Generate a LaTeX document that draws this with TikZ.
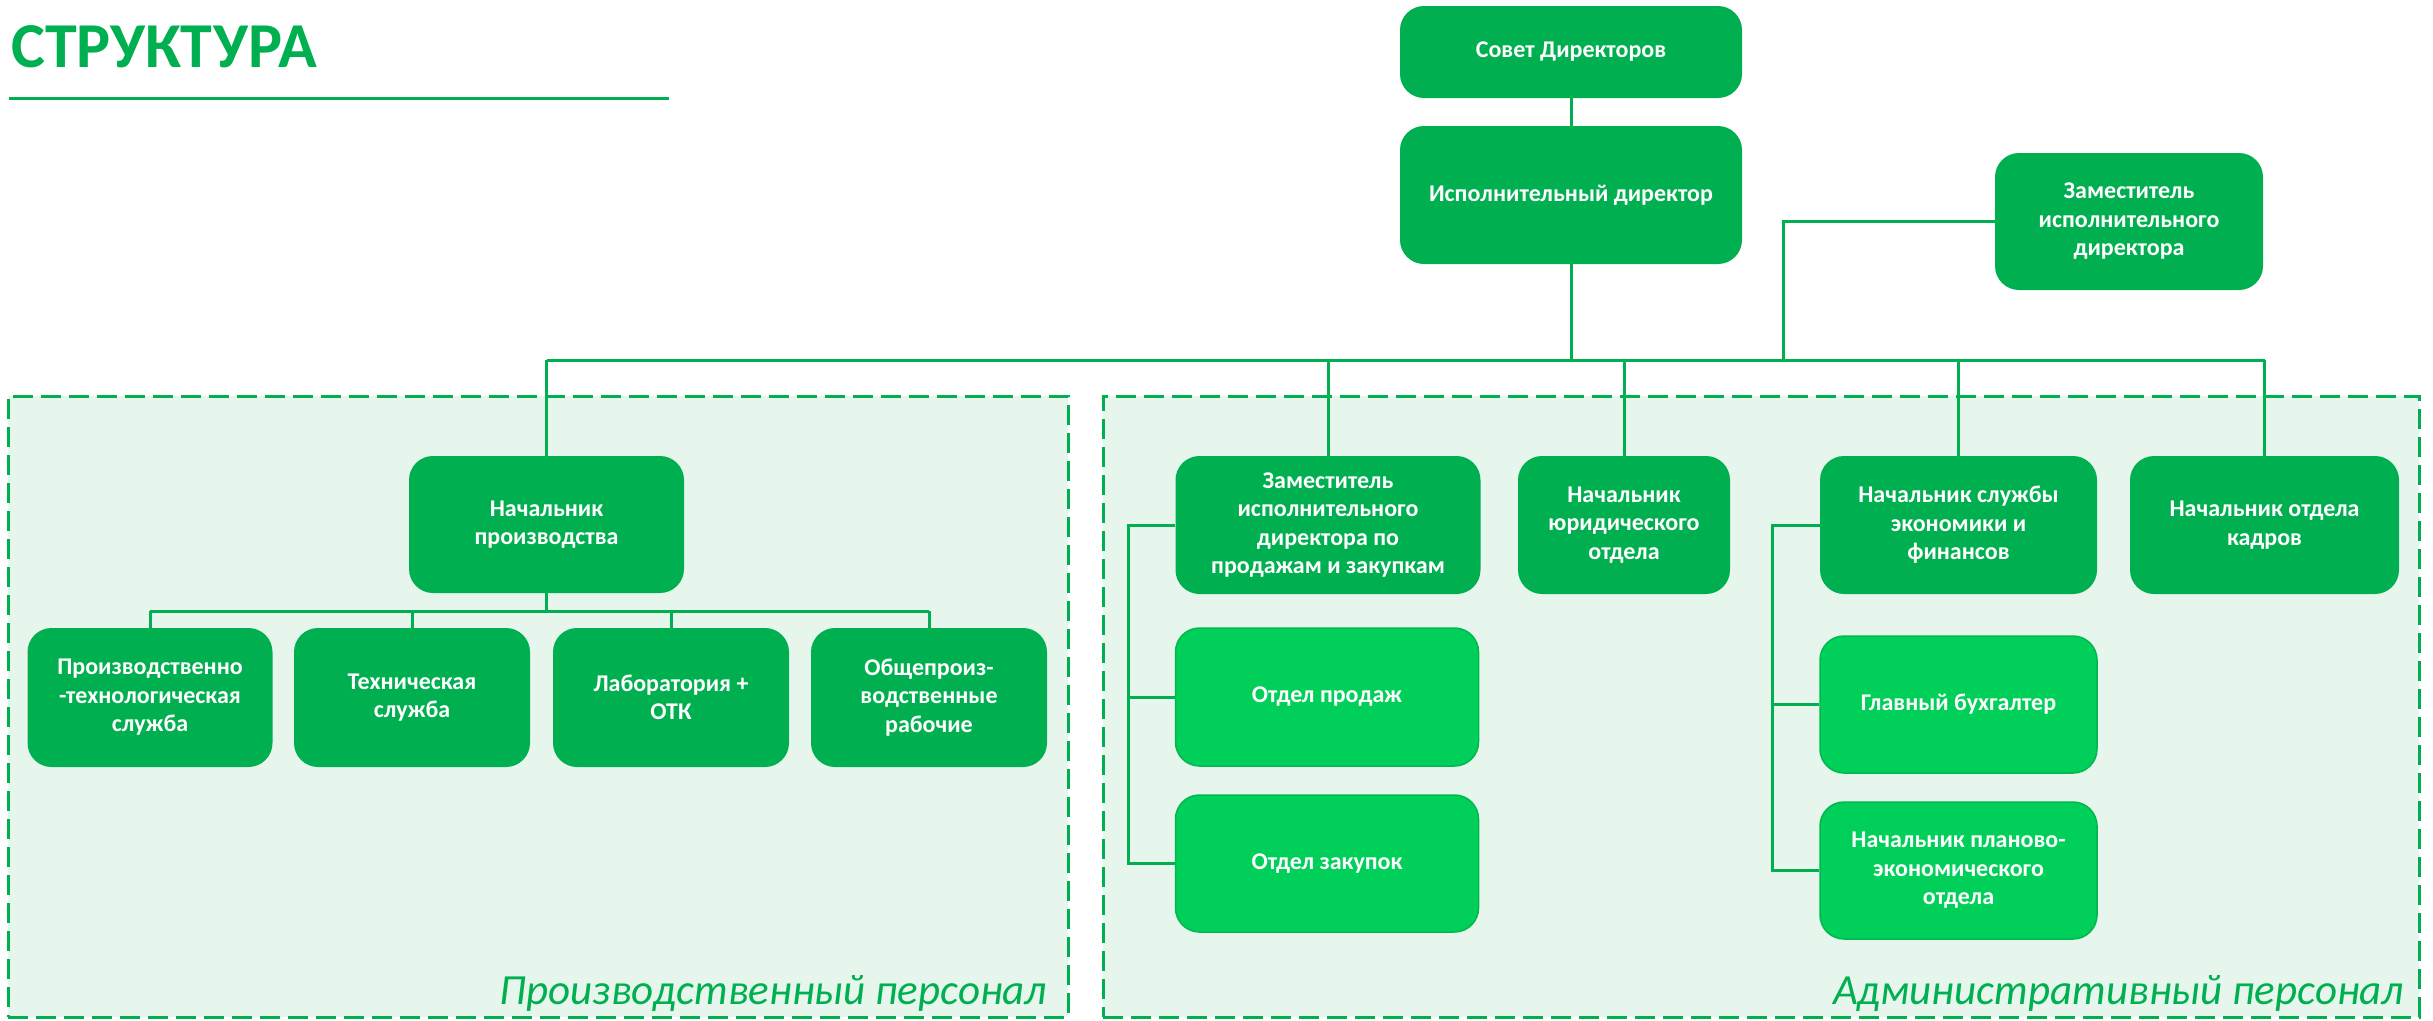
\documentclass[tikz,border=0pt]{standalone}
\usepackage{fontspec}
\setmainfont{Carlito}
\definecolor{dg}{HTML}{00B050}
\definecolor{lg}{HTML}{00D05A}
\definecolor{lgb}{HTML}{00B850}
\definecolor{bg}{HTML}{E7F6EC}
\tikzset{
  box/.style={rectangle, rounded corners=24pt, fill=dg, text=white,
    font=\fontsize{24}{28.5}\selectfont\bfseries, align=center, inner sep=0pt},
  lbox/.style={box, fill=lg, draw=lgb, line width=1.5pt},
  dims/.style 2 args={minimum width=#1pt, minimum height=#2pt},
  link/.style={draw=dg, line width=3pt},
  region/.style={rectangle, draw=dg, fill=bg, dash pattern=on 20pt off 8pt, line width=3pt, inner sep=0pt},
  grp/.style={anchor=base east, text=dg, inner sep=0pt, font=\fontsize{43}{50}\selectfont\itshape},
}
\begin{document}
\begin{tikzpicture}[x=1pt,y=-1pt]
\useasboundingbox[fill=white] (0,0) rectangle (2433,1020);
% title
\node[anchor=base west, inner sep=0pt, text=dg, font=\fontsize{64}{70}\selectfont\bfseries] (title) at (11,67) {СТРУКТУРА};
\coordinate (ulA) at (9,98);
\coordinate (ulB) at (669,98);
\draw[link] (ulA) -- (ulB);
% regions
\node[region, dims={1060}{621}] (regL) at (538,706.5) {};
\node[region, dims={1316}{621}] (regR) at (1761,706.5) {};
\node[grp] (labL) at (1047,1004) {Производственный персонал};
\node[grp] (labR) at (2404,1004) {Административный персонал};
% coordinates for buses
\coordinate (bus) at (0,360);
\coordinate (zamj) at (1783,360);
\coordinate (sub) at (0,611);
\coordinate (tl) at (1128,0);
\coordinate (tr) at (1772,0);
% boxes
\node[box, dims={342}{92}] (sovet) at (1571,52) {Совет Директоров};
\node[box, dims={342}{138}] (ispdir) at (1571,195) {Исполнительный директор};
\node[box, dims={268}{137}] (zamid) at (2129,221.5) {Заместитель\\исполнительного\\директора};
\node[box, dims={275}{137}] (nachpr) at (546.5,524.5) {Начальник\\производства};
\node[box, dims={245}{139}] (pts) at (150,697.5) {Производственно\\-технологическая\\служба};
\node[box, dims={236}{139}] (tech) at (412,697.5) {Техническая\\служба};
\node[box, dims={236}{139}] (lab) at (671,697.5) {Лаборатория +\\ОТК};
\node[box, dims={236}{139}] (obsh) at (929,697.5) {Общепроиз-\\водственные\\рабочие};
\node[box, dims={305}{138}] (zamprod) at (1328,525) {Заместитель\\исполнительного\\директора по\\продажам и закупкам};
\node[box, dims={212}{138}] (yur) at (1624,525) {Начальник\\юридического\\отдела};
\node[box, dims={277}{138}] (econ) at (1958.5,525) {Начальник службы\\экономики и\\финансов};
\node[box, dims={269}{138}] (kadr) at (2264.5,525) {Начальник отдела\\кадров};
\node[lbox, dims={303}{138}] (sales) at (1327,697) {Отдел продаж};
\node[lbox, dims={303}{137}] (purch) at (1327,863.5) {Отдел закупок};
\node[lbox, dims={277}{137}] (buh) at (1958.5,704.5) {Главный бухгалтер};
\node[lbox, dims={277}{137}] (plan) at (1958.5,870.5) {Начальник планово-\\экономического\\отдела};
% connectors
\draw[link] (sovet.south) -- (ispdir.north);
\draw[link] (ispdir.south) -- (ispdir.south |- bus);
\draw[link] (nachpr.north |- bus) -- (kadr.north |- bus);
\draw[link] (zamid.west) -| (zamj);
\foreach \n in {nachpr,zamprod,yur,econ,kadr}
  \draw[link] (\n.north |- bus) -- (\n.north);
\draw[link] (nachpr.south) -- (nachpr.south |- sub);
\draw[link] (pts.north |- sub) -- (obsh.north |- sub);
\foreach \n in {pts,tech,lab,obsh}
  \draw[link] (\n.north |- sub) -- (\n.north);
\draw[link] (zamprod.west) -- (zamprod.west -| tl) |- (purch.west);
\draw[link] (sales.west) -- (sales.west -| tl);
\draw[link] (econ.west) -- (econ.west -| tr) |- (plan.west);
\draw[link] (buh.west) -- (buh.west -| tr);
\end{tikzpicture}
\end{document}
